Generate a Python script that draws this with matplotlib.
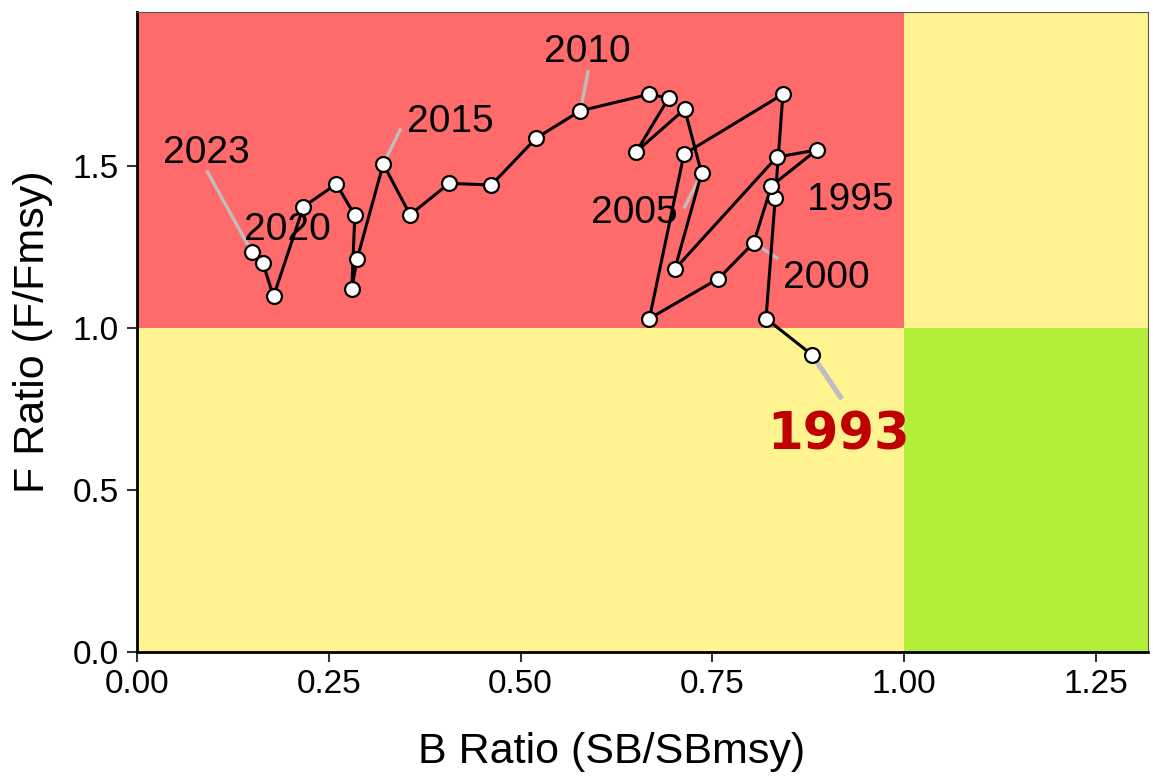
import matplotlib.pyplot as plt
from matplotlib.patches import Rectangle

plt.rcParams["font.family"] = ["Liberation Sans", "DejaVu Sans"]

years = list(range(1993, 2024))
b_ratio = [0.880, 0.820, 0.832, 0.842, 0.713, 0.668, 0.758, 0.804, 0.827, 0.886,
           0.834, 0.701, 0.736, 0.714, 0.651, 0.693, 0.668, 0.578, 0.520, 0.462,
           0.407, 0.356, 0.321, 0.287, 0.280, 0.284, 0.260, 0.217, 0.178, 0.164,
           0.150]
f_ratio = [0.917, 1.029, 1.400, 1.721, 1.536, 1.029, 1.152, 1.263, 1.438, 1.549,
           1.527, 1.181, 1.477, 1.675, 1.544, 1.709, 1.721, 1.670, 1.585, 1.441,
           1.446, 1.349, 1.506, 1.213, 1.121, 1.347, 1.444, 1.374, 1.097, 1.201,
           1.233]

# labelled years, where their text sits and where the gray leader ends (None = no leader)
label_years = [2023, 2020, 2015, 2010, 2005, 2000, 1995]
label_pos = [(0.091, 1.54), (0.196, 1.302), (0.408, 1.636), (0.587, 1.852),
             (0.648, 1.355), (0.898, 1.154), (0.930, 1.395)]
leader_end = [(0.092, 1.481), None, (0.343, 1.611), (0.588, 1.790),
              (0.714, 1.373), (0.834, 1.216), None]

xmax, ymax = 1.318, 1.975

fig = plt.figure(figsize=(11.53, 7.79), dpi=100)
ax = fig.add_axes([0.1188, 0.163, 0.8769, 0.8217])

# Kobe quadrants
ax.add_patch(Rectangle((0, 1), 1, ymax - 1, color="#FF6A6A", lw=0, zorder=0))
ax.add_patch(Rectangle((0, 0), 1, 1, color="#FFF48F", lw=0, zorder=0))
ax.add_patch(Rectangle((1, 1), xmax - 1, ymax - 1, color="#FFF48F", lw=0, zorder=0))
ax.add_patch(Rectangle((1, 0), xmax - 1, 1, color="#B3EE3A", lw=0, zorder=0))

ax.plot(b_ratio, f_ratio, color="black", lw=2.2, zorder=2)
ax.scatter(b_ratio, f_ratio, s=115, facecolor="white", edgecolor="black",
           linewidth=1.6, zorder=3)

for yr, (lx, ly), end in zip(label_years, label_pos, leader_end):
    i = years.index(yr)
    ax.text(lx, ly, str(yr), fontsize=28, ha="center", va="center", zorder=5)
    if end is not None:
        ax.plot([b_ratio[i], end[0]], [f_ratio[i], end[1]], color="#BEBEBE",
                lw=2.4, zorder=1.5)

# 1993 highlighted
i0 = years.index(1993)
ax.plot([b_ratio[i0], 0.917], [f_ratio[i0], 0.787], color="#BEBEBE", lw=3.8, zorder=1.5)
ax.text(0.914, 0.668, "1993", fontsize=37, fontweight="bold", color="#C00000",
        family="DejaVu Sans", ha="center", va="center", zorder=5)

ax.set_xlim(0, xmax)
ax.set_ylim(0, ymax)
ax.set_xticks([0, 0.25, 0.5, 0.75, 1.0, 1.25])
ax.set_xticklabels(["0.00", "0.25", "0.50", "0.75", "1.00", "1.25"])
ax.set_yticks([0, 0.5, 1.0, 1.5])
ax.set_yticklabels(["0.0", "0.5", "1.0", "1.5"])
ax.tick_params(labelsize=24, length=7, width=1.5, color="#333333")
ax.tick_params(axis="x", pad=5)
ax.tick_params(axis="y", pad=6)
ax.set_xlabel("B Ratio (SB/SBmsy)", fontsize=31, labelpad=23)
ax.xaxis.label.set_x(0.469)
ax.set_ylabel("F Ratio (F/Fmsy)", fontsize=31, labelpad=14)

for side in ["left", "bottom"]:
    ax.spines[side].set_linewidth(2)
    ax.spines[side].set_color("black")
for side in ["top", "right"]:
    ax.spines[side].set_linewidth(0.8)
    ax.spines[side].set_color("#555555")

fig.savefig("out.png", dpi=100)
